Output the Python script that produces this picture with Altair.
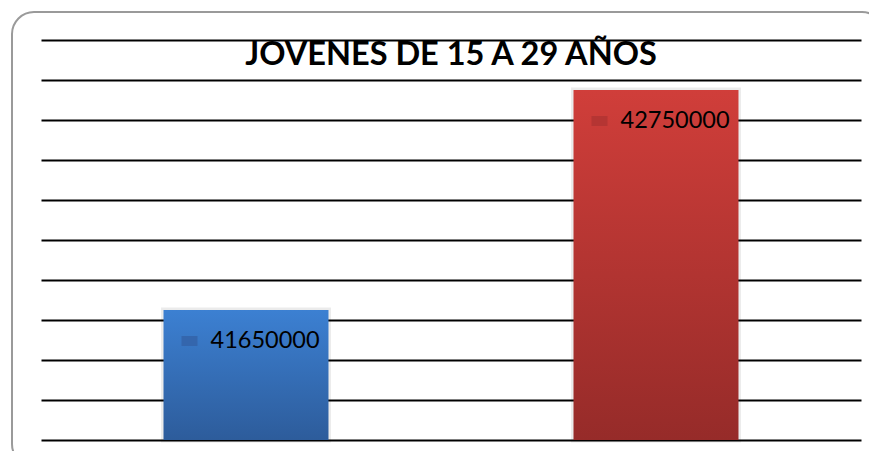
import altair as alt
import pandas as pd

# ---- data ----
categories = ["Grupo 1", "Grupo 2"]
values = [41650000, 42750000]
bar_top_colors = ["#3c80d2", "#d03e3a"]
bar_bottom_colors = ["#2d5c9b", "#962b29"]
key_colors = ["#3466ad", "#b53533"]
tick_values = [41000000, 41200000, 41400000, 41600000, 41800000, 42000000,
               42200000, 42400000, 42600000, 42800000, 43000000]
y_min, y_max = 41000000, 43000000
title_text = "JOVENES DE 15 A 29 AÑOS"

df = pd.DataFrame({"cat": categories, "value": values, "base": [y_min] * len(values)})

W, H = 820, 400

x_enc = alt.X("cat:N", sort=categories, axis=None,
              scale=alt.Scale(paddingInner=0.5976, paddingOuter=0.2988))
y_scale = alt.Scale(domain=[y_min, y_max], zero=False, nice=False)
y_enc = alt.Y("value:Q", scale=y_scale,
              axis=alt.Axis(values=tick_values, grid=True, gridColor="#000000",
                            gridWidth=2, domain=False, ticks=False, labels=False,
                            title=None))

base = alt.Chart(df)

layers = []

# frame (decoration)
frame = alt.Chart(alt.Data(values=[{}])).mark_rect(
    cornerRadius=22, fill="white", fillOpacity=0, stroke="#9a9a9a", strokeWidth=2
).encode(x=alt.value(-29), x2=alt.value(843), y=alt.value(-28), y2=alt.value(426))

# soft shadows under bars
shadow = base.mark_bar(fillOpacity=0, stroke="#000000", strokeOpacity=0.08,
                       strokeWidth=5).encode(x=x_enc, y=y_enc, y2="base:Q")
layers.append(shadow)

for cat, top, bot in zip(categories, bar_top_colors, bar_bottom_colors):
    grad = {
        "gradient": "linear",
        "x1": 0, "x2": 0, "y1": 0, "y2": 1,
        "stops": [{"offset": 0, "color": top}, {"offset": 1, "color": bot}],
    }
    layers.append(
        base.transform_filter(alt.datum.cat == cat)
        .mark_bar(color=grad)
        .encode(x=x_enc, y=y_enc, y2="base:Q")
    )

keys = base.mark_point(
    shape="M-1,-0.625H1V0.625H-1Z", size=256, filled=True, opacity=1,
    xOffset=-56.5, yOffset=31
).encode(
    x=x_enc, y=y_enc,
    color=alt.Color("cat:N", scale=alt.Scale(domain=categories, range=key_colors),
                    legend=None),
)

labels = base.mark_text(
    align="left", baseline="middle", dx=-35.5, dy=31, fontSize=23.5,
    font="Lato", color="#000000"
).encode(x=x_enc, y=y_enc, text=alt.Text("value:Q", format="d"))

title = alt.Chart(alt.Data(values=[{}])).mark_text(
    text=title_text, fontSize=32.5, font="Lato", fontWeight="bold",
    align="center", baseline="middle", color="#000000"
).encode(x=alt.value(410), y=alt.value(15))

chart = alt.layer(*layers, keys, labels, title, frame).properties(
    width=W, height=H,
    autosize=alt.AutoSizeParams(type="none"),
    padding={"left": 33, "top": 32, "right": 8, "bottom": 11},
    background="white",
).configure_view(stroke=None)

chart.save("out.html", embed_options={"renderer": "svg", "actions": False})
